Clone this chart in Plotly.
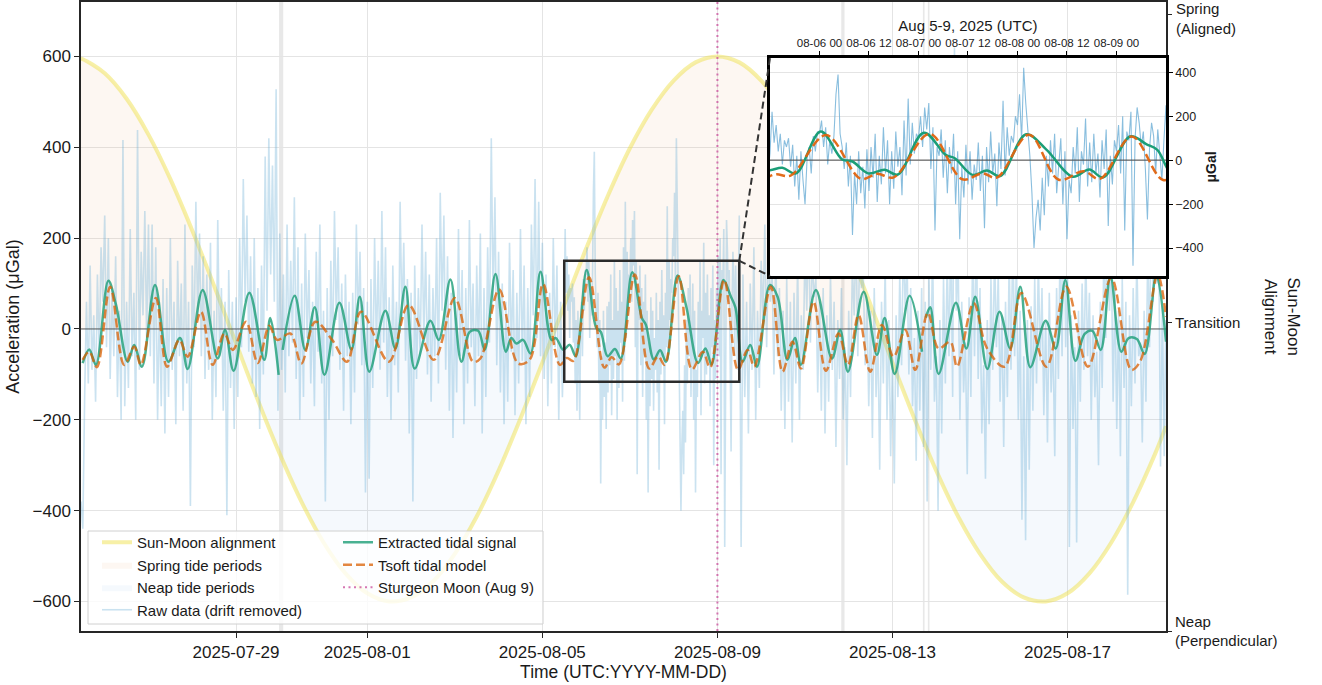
import pandas as pd
import plotly.graph_objects as go

T0 = pd.Timestamp("2025-07-25 00:00")


def stamp(hours):
    return [None if h is None else T0 + pd.Timedelta(hours=h) for h in hours]


# ---- Sun-Moon alignment index (scaled to the acceleration axis) ----
align_hours = [11, 12, 24, 36, 48, 60, 72, 84, 93, 96, 108, 120, 132, 144, 156, 168, 180,
               192, 204, 216, 228, 240, 252, 264, 271, 276, 288, 300, 312, 324, 336, 348,
               360, 372, 384, 396, 408, 420, 432, 444, 449, 456, 468, 480, 492, 504, 516,
               528, 540, 552, 564, 576, 588, 600, 606]
align_vals = [595, 594, 563, 507, 428, 330, 217, 95, 0, -31, -157, -275, -381, -470, -538,
              -582, -600, -591, -556, -495, -413, -312, -197, -74, 0, 53, 177, 294, 398, 483,
              547, 587, 600, 587, 547, 483, 398, 294, 177, 53, 0, -74, -197, -312, -413, -495,
              -556, -591, -600, -582, -538, -470, -381, -275, -214]

# ---- Extracted tidal signal (uGal), turning points ----
tide_hours = [11.9, 15.5, 19.2, 26, 30.2, 36.6, 40.2, 44.4, 51.6, 58.9, 65.3, 69.5, 77.7, 86,
              90, 94.7, 103.3, 111.5, 114.8, 119.4, None, 121.6, 128.2, 134, 139.2, 144.5,
              152.7, 159.3, 163.9, 169.1, 177.9, 183.4, 188.9, 194, 202.6, 207.2, 213.6,
              219.6, 224.2, 228.8, 232.4, 238.3, 244, 247, 249.8, 253.4, 257.5, 263, 269,
              271.4, 275.5, 279, 282.3, 288.3, 293.5, 296, 299.8, 303.8, 307, 313.3, 318.6,
              320.8, 325.1, 328.6, 331.8, 338.1, 343, 349.4, 353.4, 356.8, 363.3, 367.3,
              369.9, 373.8, 378, 381.7, 388.8, 393, 398.4, 402.5, 405.8, 414, 422.8, 427.3,
              431.6, 440.2, 447.5, 451.7, 457.2, 465.4, 472.2, None, 474.3, 476.7, 481.3,
              490.8, 496.5, 501.4, 508, 514.7, 520.6, 526.1, 531.6, 540, 545.5, 550.8, 556.3,
              561.4, 565.6, 570.2, 575.5, 581.5, 585.5, 590, 594.3, 600.7, 606]
tide_vals = [-75, -45, -79, 106, 53, -72, -35, -83, 97, -72, -20, -88, 86, -65,
             -2, -92, 80, -68, 24, -101, None, -46, 73, -46, 48, -101,
             58, -45, 71, -94, 40, -43, 93, -87, 18, -24, 109,
             -72, -6, -4, -46, 121, -50, -20, -32, -24, -54, 126, -24,
             -20, -46, -35, -60, 130, 3, -6, -60, -44, -65, 125, 24,
             9, -67, -47, -72, 118, 48, -75, -43, -78, 108, 72,
             47, -72, -35, -83, 97, 71, -68, -20, -79, 86, -65, -2,
             -94, 82, -57, 24, -99, 73, -50, None, 25, 48, -99,
             58, -43, 71, -88, 38, -43, 93, -84, 18, -43, 108, -70,
             -11, -4, -46, 117, -50, -20, -22, -55, 119, -28]

# ---- Tsoft tidal model (uGal), turning points ----
model_hours = [11.9, 15.5, 19.7, 27, 34.7, 40.2, 43.8, 52, 58.2, 64.9, 69.5, 76.8, 83.2, 89.6,
               94.2, 101.5, 107.9, 114.3, 118.5, 125.8, 131.8, 139.5, 148.7, 156.9, 164.6,
               179.8, 190.7, 204.5, 216, 226, 230, 240.3, 250.7, 257, 264.4, 273.6, 277.5,
               281, 289.6, 298, 302, 306, 314.7, 322.6, 327.5, 331, 338.8, 346, 352, 356,
               363.7, 371.3, 376.5, 380.2, 389.3, 395.7, 401.2, 405.8, 412.7, 419.5, 426.4,
               431.6, 437.4, 443.8, 450.2, 456.6, 463, 468.5, 475.4, 481.3, 487.7, 491.4,
               500.5, 507.8, 517.5, 526.7, 540.4, 551.3, 563.2, 576, 587, 592, 601.4, 606]
model_vals = [-68, -50, -84, 93, -79, -39, -79, 68, -83, -24, -61, 38, -79, -10,
              -46, 16, -75, 7, -24, -10, -76, 16, -24, -72, 38,
              -72, 53, -68, 68, -72, -65, 87, -76, -68, 99, -79, -64,
              -70, 114, -85, -62, -78, 120, -87, -60, -79, 116, -89, -50, -85,
              108, -90, -46, -83, 93, -94, -28, -87, 60, -92, -10,
              -79, 31, -94, 9, -61, -2, -90, 36, -43, -28, -83,
              57, -42, -83, 79, -83, 93, -83, 112, -90, -70, 119, 27]

# ---- Raw gravimeter data with drift removed (uGal) ----
# hourly samples from hour 11 to hour 275
raw_a = [
    -380, -440, -150, 60, -120, 140, -90, 30, -160, 120, -60, 180, 60, 250, -40, 200, -110, 90, -60, 160, -150, 40, -200, 416,
    -170, 60, -130, 220, -60, 80, -200, 438, -90, 170, 30, 260, -20, 230, -60, 230, -120, 180, -200, 60, -170, 110, -230, 90,
    -150, 200, -90, 60, -210, 150, -60, 100, -180, 230, -120, 60, -390, 140, -40, 280, 20, 210, -60, 160, -110, 120, -90, 190,
    -200, 40, -150, 240, -60, 90, -180, 60, -410, 130, -130, 60, -220, 70, -150, 200, -40, 330, 60, 250, -50, 160, -120, 200,
    -150, 90, -220, 140, -100, 380, 40, 420, 120, 360, 60, 528, -180, 210, -90, 120, -140, 230, -60, 150, -30, 290, -110, 180,
    -200, 100, -150, 210, -20, 130, -120, 60, -170, 170, -50, 230, -120, 40, -380, 90, -200, 150, -60, 260, 20, 180, -90, 100,
    -180, 120, -60, 60, -210, 80, -140, 230, 10, 170, -80, 90, -360, 60, -330, 110, -130, 200, -40, 150, -90, 260, -30, 180,
    -150, 70, -200, 140, -80, 60, -140, 280, 20, 190, -70, 110, -230, 80, -380, 140, -110, 90, -60, 230, -20, 170, -100, 120,
    -160, 90, -60, 200, -120, 300, 40, 250, -90, 160, -180, 80, -240, 60, -140, 220, -60, 130, -210, 90, -120, 240, -40, 100,
    -170, 140, -60, 210, -230, 90, -150, 180, -30, 420, 60, 290, -80, 170, -140, 100, -210, 60, -160, 190, -50, 130, -190, 80,
    -120, 220, -70, 140, -210, 90, -150, 230, 30, 330, -20, 280, -60, 190, -110, 120, -170, 80, -120, 200, -40, 140, -200, 60, -150,
]
# half-hourly samples from hour 276 to hour 371.5
raw_b = [
    30, 220, 80, 160, 40, 120, -20, 90, 60, 100, -30, 70, -120, 20, -180, 40, -90, -200, 10, 60, -60, 110, 40, 130,
    120, 180, 60, 150, -20, 90, 30, 110, 300, 390, 120, 60, -40, 80, -120, 20, -340, -60, -200, 40, -150, -30, -220, 50,
    -140, 60, -80, 120, -190, 20, -110, 150, -60, 90, -200, 40, -130, 130, -30, 60, -160, 180, -70, 280, -20, 170, 30, 120,
    100, 200, 60, 240, 140, 260, -40, 150, -320, 60, 20, 140, -80, 90, -150, 60, -60, 120, -200, 40, -360, -30, -170, 70,
    -110, 40, -180, -20, -90, 80, -140, 20, -310, 60, -100, 130, -60, 30, -210, 80, -40, 270, -70, 150, 20, 110, 80, 200,
    160, 300, 90, 420, 260, 140, 20, -150, -400, -260, -180, -320, -80, -250, 20, -120, 90, -60, 120, -150, -30, 100, -200, 40,
    -360, -90, -150, 60, -60, 150, -190, 40, -20, 190, -120, 80, -100, 120, -60, 30, -170, 90, -40, 140, -300, 20, -110, 90,
    40, 160, -60, 200, -320, 130, 90, 220, -480, 100, 240, 170, 60, 130, -40, -270, 50, 170, 110, -60, 140, 20, -90, 90,
]
# hourly samples from hour 372 to hour 606
raw_c = [
    250, -480, 120, -150, 60, -230, 100, -90, 180, -200, 40, -130, 150, 20, 230, -40, 190, 60, 120, -100, 170, -60, 90, -180,
    40, -220, 110, -160, 60, -250, 80, -120, 150, -200, 30, -90, 180, 40, 230, -30, 160, 70, 110, -140, 60, -180, 90, -230,
    30, -160, 120, -90, 60, -260, 20, -110, 90, -200, -40, -300, 40, -150, 140, 30, 210, -60, 170, 90, 120, -80, 60, -170,
    40, -240, 90, -150, -20, -310, 60, -120, 140, -200, 20, -280, -60, -340, 30, -150, 120, -80, 200, 40, 150, -100, 90, -170,
    -20, -290, 40, -180, 90, -260, 60, -380, 110, -90, 180, -160, -60, -400, 20, -230, 110, -120, 150, -60, 230, -150, 620, 40,
    160, -200, 60, -140, -30, -320, 70, -150, 190, -60, 230, -110, 90, -230, -80, -330, 20, -210, 110, -90, 170, -40, 120, -160,
    30, -260, 60, -150, 150, -90, 210, -60, 160, -200, 40, -420, -60, -465, 20, -310, 50, -180, 110, -120, 150, -70, 90, -190,
    20, -250, 80, -140, -20, -280, 90, -110, 220, -60, 280, -40, 140, -480, 30, -220, -40, -470, 40, -160, 100, -90, 160, -60,
    80, -200, 30, -150, -50, -300, 60, -130, 200, -20, 280, 40, 170, -160, 90, -220, 40, -280, 110, -130, 60, -585, 30, -170,
    90, -120, 160, -60, -30, -250, 40, -160, 180, -40, 300, 60, 416, 100, 210, -303, 50, -280, 20,
]

# data gaps (hours)
gap_spans = [(119.6, 121.9), (427.9, 429.7), (472.7, 473.6), (475.4, 476.3)]

# time window shown in the inset and its box on the main axes
zoom_hours = (276, 372)
zoom_box_vals = (-116, 150)
full_moon = "2025-08-09 00:00"

x_ticks_main = ["2025-07-29", "2025-08-01", "2025-08-05", "2025-08-09", "2025-08-13", "2025-08-17"]
y_ticks_main = [-600, -400, -200, 0, 200, 400, 600]
inset_ticks = ["2025-08-06 00:00", "2025-08-06 12:00", "2025-08-07 00:00", "2025-08-07 12:00",
               "2025-08-08 00:00", "2025-08-08 12:00", "2025-08-09 00:00"]
inset_y_ticks = [-400, -200, 0, 200, 400]
phase_ticks = [-1, 0, 1]
phase_labels = ["Neap<br>(Perpendicular)", "Transition", "Spring<br>(Aligned)"]

# ---------------------------------------------------------------------------
x_range_h = (11, 606)
y_range = (-665, 720)
phase_range = (-1, 1.042)
inset_y_range = (-527, 465)
inset_dom_x = (0.635, 1.0)
inset_dom_y = (0.5644, 0.911)

raw_hours = ([11 + i for i in range(len(raw_a))]
             + [276 + 0.5 * i for i in range(len(raw_b))]
             + [372 + i for i in range(len(raw_c))])
raw_vals = raw_a + raw_b + raw_c
raw_t = stamp(raw_hours)
align_t = stamp(align_hours)
tide_t = stamp(tide_hours)
model_t = stamp(model_hours)
spring_part = [max(v, 0) for v in align_vals]
neap_part = [min(v, 0) for v in align_vals]

x_lo, x_hi = stamp(x_range_h)
z_lo, z_hi = stamp(zoom_hours)

GREEN = "#1b9e77"
FONT = "Liberation Sans, Arial, Helvetica, sans-serif"

fig = go.Figure()

fig.add_trace(go.Scatter(x=align_t, y=spring_part, mode="lines", fill="tozeroy",
                         line=dict(width=0, shape="spline"), fillcolor="rgba(232,150,95,0.08)",
                         name="Spring tide periods", legend="legend", legendrank=2, hoverinfo="skip"))
fig.add_trace(go.Scatter(x=align_t, y=neap_part, mode="lines", fill="tozeroy",
                         line=dict(width=0, shape="spline"), fillcolor="rgba(120,175,230,0.07)",
                         name="Neap tide periods", legend="legend", legendrank=3, hoverinfo="skip"))
fig.add_trace(go.Scatter(x=align_t, y=align_vals, mode="lines",
                         line=dict(color="rgba(240,226,80,0.5)", width=4, shape="spline"),
                         name="Sun-Moon alignment", legend="legend", legendrank=1))
fig.add_trace(go.Scatter(x=raw_t, y=raw_vals, mode="lines",
                         line=dict(color="rgba(107,174,214,0.36)", width=1.6),
                         name="Raw data (drift removed)", legend="legend", legendrank=4))
fig.add_trace(go.Scatter(x=[x_lo, x_hi], y=[0, 0], mode="lines",
                         line=dict(color="rgba(60,60,60,0.8)", width=1.2), showlegend=False,
                         hoverinfo="skip"))
fig.add_trace(go.Scatter(x=tide_t, y=tide_vals, mode="lines", connectgaps=False,
                         line=dict(color="rgba(27,158,119,0.8)", width=2.5, shape="spline"),
                         name="Extracted tidal signal", legend="legend2", legendrank=1))
fig.add_trace(go.Scatter(x=model_t, y=model_vals, mode="lines",
                         line=dict(color="rgba(217,95,2,0.75)", width=2.5, shape="spline", dash="9px,4px"),
                         name="Tsoft tidal model", legend="legend2", legendrank=2))
fig.add_trace(go.Scatter(x=[full_moon, full_moon], y=list(y_range), mode="lines",
                         line=dict(color="rgba(204,85,160,0.8)", width=2, dash="2px,3.5px"),
                         name="Sturgeon Moon (Aug 9)", legend="legend2", legendrank=3))
# phase axis carrier (invisible)
fig.add_trace(go.Scatter(x=[x_lo], y=[0], yaxis="y3", mode="markers", marker=dict(opacity=0),
                         showlegend=False, hoverinfo="skip"))

# inset traces
fig.add_trace(go.Scatter(x=raw_t, y=raw_vals, xaxis="x2", yaxis="y2", mode="lines",
                         line=dict(color="rgba(107,174,214,0.8)", width=1.1), showlegend=False))
fig.add_trace(go.Scatter(x=[z_lo, z_hi], y=[0, 0], xaxis="x2", yaxis="y2", mode="lines",
                         line=dict(color="rgba(70,70,70,0.8)", width=1.2), showlegend=False))
fig.add_trace(go.Scatter(x=tide_t, y=tide_vals, xaxis="x2", yaxis="y2", mode="lines",
                         line=dict(color=GREEN, width=2.5, shape="spline"), showlegend=False))
fig.add_trace(go.Scatter(x=model_t, y=model_vals, xaxis="x2", yaxis="y2", mode="lines",
                         line=dict(color="rgba(225,100,15,0.95)", width=2.5, shape="spline", dash="9px,4px"),
                         showlegend=False))

shapes = []
for a, b in gap_spans:
    ga, gb = stamp([a, b])
    shapes.append(dict(type="rect", xref="x", yref="paper", x0=ga, x1=gb, y0=0, y1=1,
                       fillcolor="rgba(190,190,190,0.35)", line=dict(width=0), layer="below"))
shapes.append(dict(type="rect", xref="x", yref="y", x0=z_lo, x1=z_hi,
                   y0=zoom_box_vals[0], y1=zoom_box_vals[1],
                   line=dict(color="#2b2b2b", width=2.5), fillcolor="rgba(0,0,0,0)", layer="above"))
# connectors from the box corner to the inset corners
cx = (zoom_hours[1] - x_range_h[0]) / (x_range_h[1] - x_range_h[0])
cy = (zoom_box_vals[1] - y_range[0]) / (y_range[1] - y_range[0])
for iy in inset_dom_y:
    shapes.append(dict(type="line", xref="paper", yref="paper", x0=cx, y0=cy,
                       x1=inset_dom_x[0], y1=iy,
                       line=dict(color="#333333", width=2, dash="7px,4px"), layer="above"))
# legend frame
lx0, lx1, ly0, ly1 = (88 - 81) / 1085, (543 - 81) / 1085, (631 - 624) / 629, (631 - 531) / 629
shapes.append(dict(type="rect", xref="paper", yref="paper", x0=lx0, x1=lx1, y0=ly0, y1=ly1,
                   fillcolor="rgba(255,255,255,0.8)", line=dict(color="#d0d0d0", width=1),
                   layer="above"))

axis_line = dict(showline=True, mirror=True, linecolor="#262626", linewidth=1.5,
                 ticks="outside", ticklen=5, tickcolor="#262626", zeroline=False,
                 automargin=False)
inset_line = dict(showline=True, mirror=True, linecolor="#000000", linewidth=2.5,
                  ticks="outside", ticklen=4, tickcolor="#000000", zeroline=False,
                  automargin=False)

# the top phase label sits just under the figure edge, so it is placed as an annotation
spring_y = (phase_ticks[2] - phase_range[0]) / (phase_range[1] - phase_range[0])
phase_ticktext = phase_labels[:2] + [""]

fig.update_layout(
    width=1322, height=685, autosize=False,
    margin=dict(l=81, r=156, t=2, b=54),
    plot_bgcolor="white", paper_bgcolor="white",
    font=dict(family=FONT, size=17, color="#1a1a1a"),
    showlegend=True,
    shapes=shapes,
    xaxis=dict(domain=[0, 1], range=[x_lo, x_hi], type="date", tickvals=x_ticks_main,
               tickformat="%Y-%m-%d", showgrid=True, gridcolor="#e4e4e4", gridwidth=1,
               title=dict(text="Time (UTC:YYYY-MM-DD)", standoff=2, font=dict(size=17.5)),
               **axis_line),
    yaxis=dict(domain=[0, 1], range=list(y_range), tickvals=y_ticks_main, showgrid=True,
               gridcolor="#e4e4e4", gridwidth=1,
               title=dict(text="Acceleration (μGal)", standoff=8, font=dict(size=18)),
               **axis_line),
    yaxis3=dict(overlaying="y", anchor="x", side="right", range=list(phase_range),
                tickvals=phase_ticks, ticktext=phase_ticktext, showgrid=False, zeroline=False,
                ticks="outside", ticklen=5, tickcolor="#262626", tickfont=dict(size=15),
                ticklabeloverflow="allow", showline=False, automargin=False),
    xaxis2=dict(domain=list(inset_dom_x), anchor="y2", side="top", type="date",
                range=[z_lo, z_hi], tickvals=inset_ticks, tickformat="%m-%d %H",
                tickfont=dict(size=11.5), showgrid=True, gridcolor="#e4e4e4",
                title=dict(text="Aug 5-9, 2025 (UTC)", font=dict(size=15), standoff=2),
                **inset_line),
    yaxis2=dict(domain=list(inset_dom_y), anchor="x2", side="right",
                range=list(inset_y_range), tickvals=inset_y_ticks, tickfont=dict(size=12.5),
                showgrid=True, gridcolor="#e4e4e4",
                title=dict(text="<b>μGal</b>", font=dict(size=14), standoff=4),
                **inset_line),
    legend=dict(x=(97 - 81) / 1085, y=(631 - 526) / 629, xanchor="left", yanchor="top",
                bgcolor="rgba(0,0,0,0)", borderwidth=0, font=dict(size=15),
                traceorder="normal"),
    legend2=dict(x=(338 - 81) / 1085, y=(631 - 526) / 629, xanchor="left", yanchor="top",
                 bgcolor="rgba(0,0,0,0)", borderwidth=0, font=dict(size=15),
                 traceorder="normal"),
    annotations=[
        dict(text="Sun-Moon<br>Alignment", xref="paper", yref="paper",
             x=(1282 - 81) / 1085, y=0.5, textangle=90, showarrow=False,
             font=dict(size=17), xanchor="center", yanchor="middle"),
        dict(text=phase_labels[2], xref="paper", yref="paper", x=1.0, y=spring_y,
             xshift=8, yshift=-4, showarrow=False, align="left", font=dict(size=15),
             xanchor="left", yanchor="middle"),
    ],
    hovermode=False,
)

fig.write_html("out.html")
